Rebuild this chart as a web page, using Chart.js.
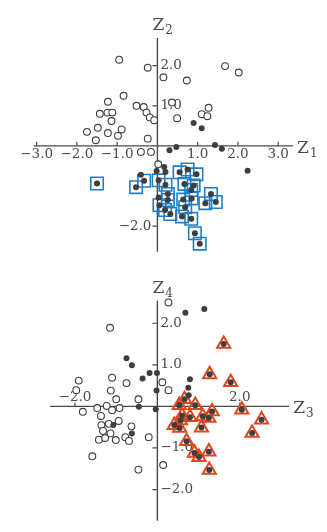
<!DOCTYPE html>
<html><head><meta charset="utf-8">
<script src="https://cdn.jsdelivr.net/npm/chart.js@4.4.1/dist/chart.umd.min.js"></script>
<style>
html,body{margin:0;padding:0;background:#fff;}
#wrap{position:relative;width:327px;height:532px;overflow:hidden;}
#c1{position:absolute;left:0;top:0;}
#c2{position:absolute;left:0;top:265px;}
</style></head><body>
<div id="wrap"><canvas id="c1" width="327" height="265"></canvas><canvas id="c2" width="327" height="267"></canvas></div>
<script>
// ---------- DATA: top panel (Z1, Z2) ----------
const topOpen = [[-0.95,2.15],[-0.24,1.95],[-0.84,1.25],[-1.23,1.10],[-0.52,1.00],[-0.34,0.97],[-0.27,0.83],[-0.19,0.71],[-0.08,0.64],[-1.43,0.80],[-1.24,0.83],[-1.12,0.83],[-1.14,0.62],[-1.48,0.45],[-1.75,0.35],[-0.89,0.41],[-1.23,0.32],[-0.98,0.25],[-1.53,0.14],[-0.24,0.18],[-0.41,-0.15],[-0.16,-0.15],[0.02,-0.46],[0.15,1.71],[0.73,1.63],[1.68,1.99],[2.02,1.83],[0.36,1.08],[0.49,0.69],[1.10,0.79],[1.24,0.74],[1.27,0.95]];
const topFilled = [[0.90,0.57],[1.10,0.44],[0.30,-0.11],[0.47,-0.03],[1.43,0.02],[1.60,-0.07],[2.24,-0.62],[0.17,-0.53],[0.20,-0.65],[-0.02,-0.63],[-0.41,-0.72],[0.03,-1.29]];
const topSquared = [[-1.50,-0.94],[-0.53,-1.03],[-0.33,-0.87],[0.03,-0.86],[0.20,-0.97],[0.26,-1.20],[0.26,-1.35],[0.05,-1.48],[0.19,-1.60],[0.32,-1.70],[0.55,-0.66],[0.75,-0.59],[0.97,-0.71],[0.67,-0.95],[0.90,-0.99],[0.84,-1.10],[0.85,-1.31],[0.64,-1.34],[0.69,-1.53],[0.61,-1.76],[0.84,-1.82],[0.93,-2.18],[1.05,-2.44],[1.19,-1.43],[1.33,-1.20],[1.45,-1.40]];
const topXTicks = [-3, -2, -1, 1, 2, 3];
const topYTicks = [2, 1, -2];
const topXName = ['Z', '1'];
const topYName = ['Z', '2'];

// ---------- DATA: bottom panel (Z3, Z4) ----------
const botOpen = [[0.27,2.50],[-1.15,1.89],[-1.91,0.62],[-1.97,0.39],[-1.10,0.69],[-0.75,0.56],[-1.13,0.38],[-1.00,0.17],[-0.46,0.17],[0.12,0.58],[0.27,0.39],[-1.81,-0.13],[-1.46,-0.04],[-1.23,0.01],[-1.10,-0.09],[-0.92,-0.04],[-1.37,-0.23],[-1.36,-0.45],[-1.18,-0.42],[-0.94,-0.35],[-1.32,-0.59],[-1.14,-0.65],[-0.63,-0.48],[-1.42,-0.80],[-1.27,-0.76],[-1.01,-0.81],[-0.78,-0.74],[-0.69,-0.83],[-0.21,-0.74],[-1.58,-1.20],[-0.46,-1.52],[0.14,-1.41]];
const botFilled = [[0.68,2.25],[1.14,2.34],[-0.75,1.16],[-0.62,0.99],[-0.36,0.67],[-0.19,0.80],[-0.01,0.80],[-0.02,0.38],[-0.45,-0.01],[-0.04,-0.07],[-1.07,-0.45],[-0.62,-0.65],[0.79,0.65],[0.75,0.45],[0.76,0.27]];
const botTriangled = [[1.61,1.50],[1.27,0.77],[1.78,0.58],[0.53,0.03],[0.66,0.17],[0.92,0.03],[1.33,-0.12],[1.25,-0.28],[1.10,-0.24],[0.79,-0.26],[0.60,-0.22],[0.56,-0.34],[0.41,-0.45],[0.54,-0.52],[1.07,-0.51],[2.05,-0.08],[2.53,-0.32],[2.30,-0.64],[0.71,-0.84],[0.90,-1.12],[1.01,-1.22],[1.25,-1.09],[1.26,-1.53]];
const botXTicks = [-2, 2];
const botYTicks = [2, 1, -1, -2];
const botXName = ['Z', '3'];
const botYName = ['Z', '4'];

// ---------- styling ----------
const INK = '#4a4a4a';
const DOT = '#3e3e3e';
const BLUE = '#1f7fc6';
const RED = '#e0461c';
const pts = a => a.map(p => ({x: p[0], y: p[1]}));
const fmt = v => (v < 0 ? '\u2212' : '') + Math.abs(v).toFixed(1);

const axesPlugin = {
  id: 'crossAxes',
  beforeDatasetsDraw(chart, args, o) {
    const {ctx} = chart;
    const xs = chart.scales.x, ys = chart.scales.y;
    const x0 = xs.getPixelForValue(0), y0 = ys.getPixelForValue(0);
    ctx.save();
    ctx.strokeStyle = INK; ctx.fillStyle = INK; ctx.lineWidth = 1.4;
    ctx.beginPath();
    ctx.moveTo(xs.getPixelForValue(o.xRange[0]), y0);
    ctx.lineTo(xs.getPixelForValue(o.xRange[1]), y0);
    ctx.moveTo(x0, ys.getPixelForValue(o.yRange[0]));
    ctx.lineTo(x0, ys.getPixelForValue(o.yRange[1]));
    ctx.stroke();
    ctx.lineWidth = 1.2;
    ctx.beginPath();
    o.xTicks.forEach(v => { const p = xs.getPixelForValue(v); ctx.moveTo(p, y0); ctx.lineTo(p, y0 - 4); });
    o.yTicks.forEach(v => { const p = ys.getPixelForValue(v); ctx.moveTo(x0 - 5, p); ctx.lineTo(x0, p); });
    ctx.stroke();
    ctx.font = '13.5px "DejaVu Serif"';
    ctx.textBaseline = 'middle';
    ctx.textAlign = 'center';
    o.xTicks.forEach(v => {
      ctx.fillText(fmt(v), xs.getPixelForValue(v), y0 + (o.xLabelBelow ? 9 : -9));
    });
    o.yTicks.forEach(v => {
      const p = ys.getPixelForValue(v);
      const right = o.yLeft.indexOf(v) < 0;
      ctx.textAlign = right ? 'left' : 'right';
      ctx.fillText(fmt(v), right ? x0 + 3 : x0 - 6, p);
    });
    const drawName = (name, x, y) => {
      ctx.textAlign = 'left'; ctx.textBaseline = 'alphabetic';
      ctx.font = '17px "DejaVu Serif"';
      ctx.fillText(name[0], x, y);
      const w = ctx.measureText(name[0]).width;
      ctx.font = '12px "DejaVu Serif"';
      ctx.fillText(name[1], x + w + 1, y + 4);
    };
    drawName(o.xName, xs.getPixelForValue(o.xRange[1]) + 4, y0 + 7);
    drawName(o.yName, x0 - 5, ys.getPixelForValue(o.yRange[1]) - 8);
    ctx.restore();
  }
};

function makeChart(id, open, filled, marked, markStyle, bounds, axes) {
  const markDs = markStyle === 'rect'
    ? {data: pts(marked), pointStyle: 'rect', pointRadius: 8.8, borderWidth: 1.6, borderColor: BLUE, backgroundColor: 'rgba(0,0,0,0)'}
    : {data: pts(marked), pointStyle: 'triangle', pointRadius: 7.6, borderWidth: 2, borderColor: RED, backgroundColor: 'rgba(0,0,0,0)'};
  const dotStyle = {pointStyle: 'circle', pointRadius: 3, borderWidth: 0, backgroundColor: DOT, borderColor: DOT};
  return new Chart(document.getElementById(id), {
    type: 'scatter',
    data: {datasets: [
      Object.assign({data: pts(marked)}, dotStyle),
      Object.assign({data: pts(filled)}, dotStyle),
      markDs,
      {data: pts(open), pointStyle: 'circle', pointRadius: 3.4, borderWidth: 1.1, borderColor: DOT, backgroundColor: '#ffffff'}
    ].map(d => Object.assign({clip: false, pointHoverRadius: d.pointRadius}, d))},
    options: {
      responsive: false, animation: false, events: [],
      layout: {padding: 0},
      scales: {
        x: {type: 'linear', min: bounds[0], max: bounds[1], display: false},
        y: {type: 'linear', min: bounds[2], max: bounds[3], display: false}
      },
      plugins: {legend: {display: false}, tooltip: {enabled: false}, crossAxes: axes}
    },
    plugins: [axesPlugin]
  });
}

makeChart('c1', topOpen, topFilled, topSquared, 'rect',
  [-3.6512, 3.9535, -2.7126, 3.3793],
  {xRange: [-3.07, 3.37], yRange: [-2.64, 2.69], xTicks: topXTicks, yTicks: topYTicks,
   xLabelBelow: true, yLeft: [-2], xName: topXName, yName: topYName});

makeChart('c2', botOpen, botFilled, botTriangled, 'triangle',
  [-3.5886, 3.8857, -2.7902, 3.1696],
  {xRange: [-2.61, 3.20], yRange: [-2.75, 2.54], xTicks: botXTicks, yTicks: botYTicks,
   xLabelBelow: false, yLeft: [], xName: botXName, yName: botYName});
</script>
</body></html>
